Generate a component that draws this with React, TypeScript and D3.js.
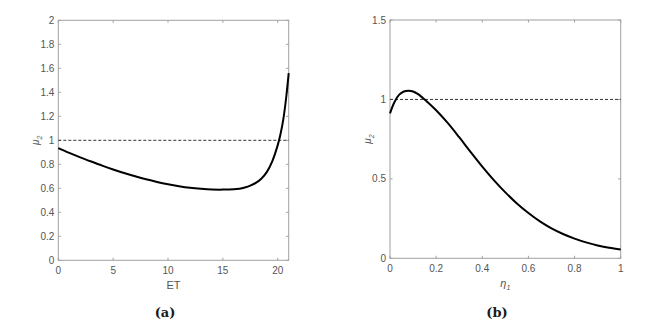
import * as d3 from "d3";

// panel (a): mu_2 against ET
const etX = [0, 1, 2, 3, 4, 5, 6, 7, 8, 9, 10, 11, 12, 13, 14, 15, 16, 16.5, 17, 17.5, 18, 18.5, 19, 19.5, 20, 20.25, 20.5, 20.75, 21];
const etMu = [0.935, 0.895, 0.858, 0.823, 0.789, 0.757, 0.727, 0.7, 0.675, 0.653, 0.634, 0.618, 0.605, 0.596, 0.59, 0.589, 0.592, 0.597, 0.607, 0.622, 0.645, 0.68, 0.735, 0.825, 0.96, 1.05, 1.17, 1.34, 1.56];

// panel (b): mu_2 against eta_1
const etaX = [0, 0.02, 0.04, 0.06, 0.08, 0.1, 0.12, 0.15, 0.2, 0.25, 0.3, 0.35, 0.4, 0.45, 0.5, 0.55, 0.6, 0.65, 0.7, 0.75, 0.8, 0.85, 0.9, 0.95, 1];
const etaMu = [0.912, 0.985, 1.03, 1.05, 1.055, 1.05, 1.035, 1.0, 0.932, 0.852, 0.762, 0.668, 0.577, 0.492, 0.415, 0.345, 0.285, 0.232, 0.188, 0.153, 0.124, 0.1, 0.081, 0.066, 0.055];

const etXTicks = [0, 5, 10, 15, 20];
const etYTicks = [0, 0.2, 0.4, 0.6, 0.8, 1, 1.2, 1.4, 1.6, 1.8, 2];
const etaXTicks = [0, 0.2, 0.4, 0.6, 0.8, 1];
const etaYTicks = [0, 0.5, 1, 1.5];

const axisColor = "#a0a0a0";
const textColor = "#555";
const font = "Liberation Sans, Arial, Helvetica, sans-serif";
const serif = "DejaVu Serif, serif";

type PanelProps = {
  left: number;
  right: number;
  top: number;
  bottom: number;
  xDomain: [number, number];
  yDomain: [number, number];
  xs: number[];
  ys: number[];
  xTicks: number[];
  yTicks: number[];
  xLabel: React.ReactNode;
  caption: string;
  captionX: number;
};

function Panel(p: PanelProps) {
  const x = d3.scaleLinear().domain(p.xDomain).range([p.left, p.right]);
  const y = d3.scaleLinear().domain(p.yDomain).range([p.bottom, p.top]);
  const line = d3.line<number>()
    .x((_, i) => x(p.xs[i]))
    .y(d => y(d))
    .curve(d3.curveCatmullRom.alpha(0.5));
  const tl = 2.5;
  const midY = (p.top + p.bottom) / 2;
  const midX = (p.left + p.right) / 2;

  return (
    <g>
      <rect x={p.left} y={p.top} width={p.right - p.left} height={p.bottom - p.top}
        fill="none" stroke={axisColor} strokeWidth={1} />
      {p.xTicks.map(t => (
        <g key={`x${t}`}>
          <line x1={x(t)} x2={x(t)} y1={p.bottom} y2={p.bottom - tl} stroke={axisColor} />
          <line x1={x(t)} x2={x(t)} y1={p.top} y2={p.top + tl} stroke={axisColor} />
          <text x={x(t)} y={p.bottom + 14} textAnchor="middle" fontSize={10}
            fill={textColor} style={{ fontFamily: font }}>{String(t)}</text>
        </g>
      ))}
      {p.yTicks.map(t => (
        <g key={`y${t}`}>
          <line x1={p.left} x2={p.left + tl} y1={y(t)} y2={y(t)} stroke={axisColor} />
          <line x1={p.right} x2={p.right - tl} y1={y(t)} y2={y(t)} stroke={axisColor} />
          <text x={p.left - 4} y={y(t) + 3.5} textAnchor="end" fontSize={10}
            fill={textColor} style={{ fontFamily: font }}>{String(t)}</text>
        </g>
      ))}
      <line x1={p.left} x2={p.right} y1={y(1)} y2={y(1)} stroke="#333"
        strokeWidth={1} strokeDasharray="3,2" />
      <path d={line(p.ys) ?? ""} fill="none" stroke="#000" strokeWidth={2} />
      <text transform={`translate(${p.left - 19},${midY}) rotate(-90)`} textAnchor="middle"
        fontSize={10} fill={textColor} fontStyle="italic" style={{ fontFamily: font }}>
        μ<tspan fontSize={7} dy={3}>2</tspan>
      </text>
      <text x={midX} y={p.bottom + 29} textAnchor="middle" fontSize={11}
        fill={textColor} style={{ fontFamily: font }}>{p.xLabel}</text>
      <text x={p.captionX} y={317} textAnchor="middle" fontSize={13} fontWeight="bold"
        fill="#1a1a1a" style={{ fontFamily: serif }}>{p.caption}</text>
    </g>
  );
}

export default function App() {
  return (
    <svg width={665} height={332} style={{ position: "absolute", left: 0, top: 0, background: "#fff" }}>
      <Panel left={58.3} right={288.7} top={20.3} bottom={260.3}
        xDomain={[0, 21]} yDomain={[0, 2]} xs={etX} ys={etMu}
        xTicks={etXTicks} yTicks={etYTicks} xLabel="ET" caption="(a)" captionX={165} />
      <Panel left={390} right={620.7} top={20} bottom={258.3}
        xDomain={[0, 1]} yDomain={[0, 1.5]} xs={etaX} ys={etaMu}
        xTicks={etaXTicks} yTicks={etaYTicks}
        xLabel={<tspan fontStyle="italic">η<tspan fontSize={7} dy={3}>1</tspan></tspan>}
        caption="(b)" captionX={497} />
    </svg>
  );
}
